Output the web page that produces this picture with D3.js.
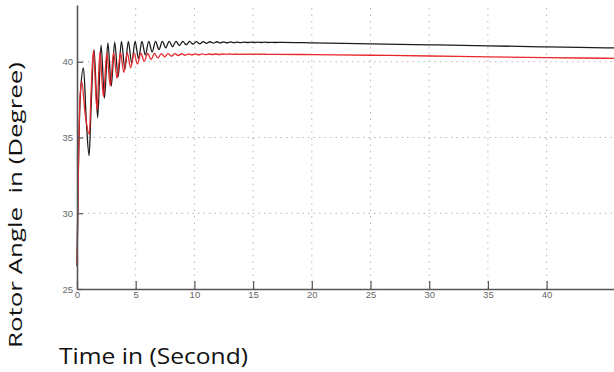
<!DOCTYPE html>
<html><head><meta charset="utf-8">
<script src="https://cdn.jsdelivr.net/npm/d3@7"></script>
<style>
body{margin:0;background:#fff;}
svg{display:block;}
</style></head>
<body>
<svg id="chart" width="614" height="372"></svg>
<script>
// ---- data ----
const xTicks = [0, 5, 10, 15, 20, 25, 30, 35, 40];
const yTicks = [25, 30, 35, 40];

const blackTime = [
  0, 0.12, 0.3, 0.55, 0.8, 1.03, 1.2, 1.45,
  1.76, 2.05, 2.34, 2.63, 2.92, 3.21, 3.5, 3.79, 4.08, 4.37,
  4.66, 4.95, 5.24, 5.53, 5.82, 6.11, 6.4, 6.69, 6.98, 7.27,
  7.56, 7.85, 8.14, 8.43, 8.72, 9.01, 9.3, 9.59, 9.88, 10.17,
  10.46, 10.75, 11.04, 11.33, 11.62, 11.91, 12.2, 12.49, 12.78, 13.07,
  13.36, 13.65, 13.94, 14.23, 14.52, 14.81, 15.1, 15.39, 15.68, 15.97,
  16.26, 16.55, 16.84,
  17.5, 20, 25, 30, 35, 40, 45, 50
];
const blackAngle = [
  26.5, 33, 38, 39.6, 36, 33.8, 37, 40.8,
  36.3, 41.1, 37.6, 41.25, 38.4, 41.3, 39.0, 41.35, 39.5, 41.35,
  39.9, 41.35, 40.2, 41.35, 40.45, 41.35, 40.65, 41.35, 40.8, 41.35,
  40.92, 41.35, 41.0, 41.35, 41.07, 41.34, 41.12, 41.34, 41.16, 41.33,
  41.19, 41.33, 41.21, 41.32, 41.23, 41.32, 41.24, 41.31, 41.25, 41.31,
  41.26, 41.3, 41.26, 41.3, 41.27, 41.3, 41.27, 41.29, 41.27, 41.29,
  41.27, 41.28, 41.27,
  41.28, 41.25, 41.18, 41.12, 41.05, 40.98, 40.92, 40.86
];

const redTime = [
  0, 0.12, 0.25, 0.4, 0.7, 1.05, 1.2, 1.4,
  1.7, 1.95,
  2.25, 2.54, 2.83, 3.12, 3.41, 3.7, 3.99, 4.28, 4.57, 4.86,
  5.15, 5.44, 5.73, 6.02, 6.31, 6.6, 6.89, 7.18, 7.47, 7.76,
  8.05, 8.34, 8.63, 8.92, 9.21, 9.5, 9.79, 10.08, 10.37, 10.66,
  10.95, 11.24, 11.53, 11.82, 12.11, 12.4, 12.69, 12.98, 13.27, 13.56,
  13.85, 14.14, 14.43, 14.72, 15.01, 15.3, 15.59, 15.88, 16.17,
  17, 20, 25, 30, 35, 40, 45, 50
];
const redAngle = [
  26.6, 33, 37.5, 38.7, 36.5, 35.2, 38, 40.75,
  36.8, 40.65,
  37.7, 40.6, 38.4, 40.6, 38.9, 40.6, 39.3, 40.58, 39.6, 40.57,
  39.85, 40.56, 40.02, 40.55, 40.15, 40.55, 40.25, 40.54, 40.32, 40.54,
  40.37, 40.53, 40.41, 40.53, 40.43, 40.52, 40.45, 40.52, 40.46, 40.52,
  40.47, 40.51, 40.48, 40.51, 40.48, 40.51, 40.49, 40.51, 40.49, 40.5,
  40.49, 40.5, 40.49, 40.5, 40.49, 40.5, 40.49, 40.5, 40.49,
  40.49, 40.47, 40.43, 40.38, 40.32, 40.27, 40.23, 40.19
];

const yLabel = "Rotor Angle  in (Degree)";
const xLabel = "Time in (Second)";

// ---- drawing ----
const svg = d3.select("#chart");
const W = 614, H = 372;
const x0 = 77, yBottom = 289;
const x = d3.scaleLinear().domain([0, 50]).range([x0, x0 + 50 * 11.74]);
const y = d3.scaleLinear().domain([25, 43.75]).range([yBottom, yBottom - 18.75 * 15.15]);

const g = svg.append("g");

// grid
g.append("g").selectAll("line").data(xTicks.filter(d => d > 0)).join("line")
  .attr("x1", d => x(d)).attr("x2", d => x(d))
  .attr("y1", y(25)).attr("y2", y(43.75))
  .attr("stroke", "#b8b8b8").attr("stroke-width", 1).attr("stroke-dasharray", "1.5,5");
g.append("g").selectAll("line").data(yTicks.filter(d => d > 25)).join("line")
  .attr("x1", x(0)).attr("x2", W)
  .attr("y1", d => y(d)).attr("y2", d => y(d))
  .attr("stroke", "#b8b8b8").attr("stroke-width", 1).attr("stroke-dasharray", "1.5,4");

// lines
const line = d3.line().x(d => x(d[0])).y(d => y(d[1])).curve(d3.curveMonotoneX);
const blackData = d3.zip(blackTime, blackAngle);
const redData = d3.zip(redTime, redAngle);
g.append("path").datum(blackData).attr("d", line)
  .attr("fill", "none").attr("stroke", "#1c1c1c").attr("stroke-width", 1.3);
g.append("path").datum(redData).attr("d", line)
  .attr("fill", "none").attr("stroke", "#e8282c").attr("stroke-width", 1.3);

// axes
const xAxis = d3.axisBottom(x).tickValues(xTicks).tickSizeInner(-8).tickSizeOuter(0).tickPadding(4);
const yAxis = d3.axisLeft(y).tickValues(yTicks).tickSizeInner(-6).tickSizeOuter(0).tickPadding(4);
const gx = g.append("g").attr("transform", `translate(0,${yBottom})`).call(xAxis);
const gy = g.append("g").attr("transform", `translate(${x0},0)`).call(yAxis);
[gx, gy].forEach(a => {
  a.select(".domain").attr("stroke", "#555").attr("stroke-width", 1.6);
  a.selectAll(".tick line").attr("stroke", "#555").attr("stroke-width", 1.2);
  a.selectAll(".tick text").attr("fill", "#666").attr("font-family", "Liberation Sans Narrow, Liberation Sans, sans-serif").attr("font-size", 9.5);
});
gx.selectAll(".tick text").attr("dy", "0.55em");

// titles
svg.append("text").attr("transform", `translate(22,205) rotate(-90)`)
  .attr("text-anchor", "middle").attr("font-family", "Open Sans, sans-serif")
  .attr("font-size", 18).attr("fill", "#111")
  .style("white-space", "pre")
  .attr("textLength", 286).attr("lengthAdjust", "spacingAndGlyphs")
  .text(yLabel);
svg.append("text").attr("x", 59).attr("y", 364)
  .attr("font-family", "Open Sans, sans-serif")
  .attr("font-size", 22).attr("fill", "#111")
  .attr("textLength", 189).attr("lengthAdjust", "spacingAndGlyphs")
  .text(xLabel);
</script>
</body></html>
